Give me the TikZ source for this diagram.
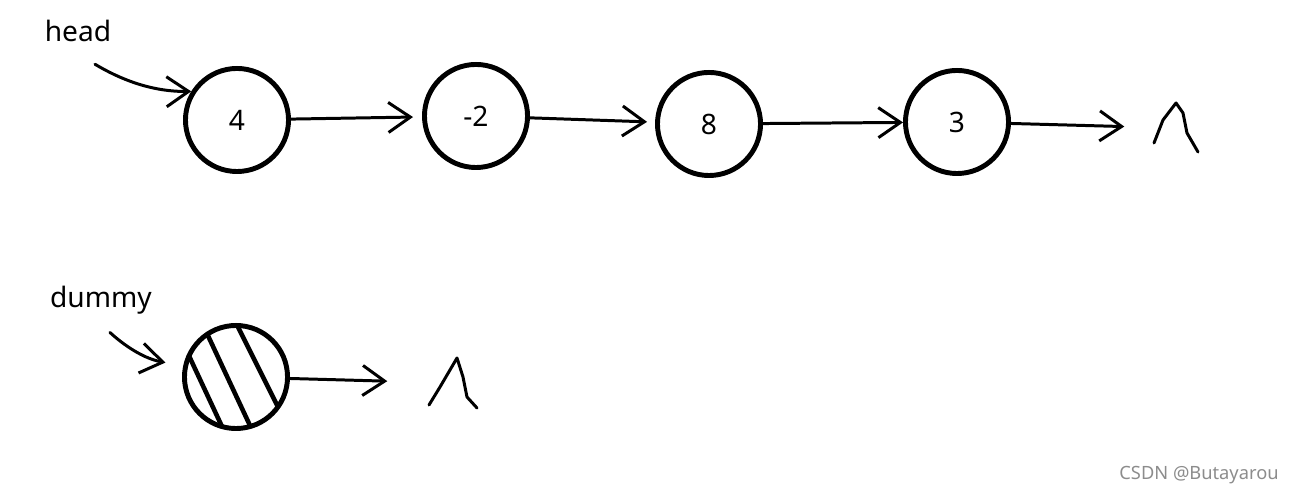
\documentclass[tikz,border=0pt]{standalone}
\usepackage{fontspec}
\setmainfont{Noto Sans}
\usepackage{tikz}
\usetikzlibrary{arrows.meta, positioning}

\begin{document}
\begin{tikzpicture}[
    x=0.01cm, y=-0.01cm,
    every node/.style={font=\fontsize{8}{10}\selectfont},
    listnode/.style={circle, draw, line width=1.4pt, minimum size=1.03cm, inner sep=0pt},
    dummynode/.style={listnode, path picture={
        \draw[line width=1.3pt, shift={(path picture bounding box.center)}]
            (-60,-49) -- (-4,71) (-40,-67) -- (24,70) (-5,-64) -- (52,50);}},
    nil/.style={minimum width=0.54cm, minimum height=0.56cm, inner sep=0pt, path picture={
        \draw[line width=0.85pt, line join=round, line cap=round,
              shift={(path picture bounding box.center)}] #1;}},
    link/.style={-{Straight Barb[length=2.2mm, width=3mm]}, line width=0.85pt},
    pointer/.style={link, line cap=round},
    watermark/.style={font=\fontsize{5.2}{6}\selectfont, text=black!45}
]
    \useasboundingbox (0,0) rectangle (1291,495);

    % List
    \node[listnode] (n1) at (237,120) {4};
    \node[listnode] (n2) at (476,116) {-2};
    \node[listnode] (n3) at (709,124) {8};
    \node[listnode] (n4) at (957,122) {3};
    \node[nil={(-22,15) -- (-13,-8) -- (0,-25) -- (7,-15) -- (11,5) -- (22,24)}] (nil1) at (1176,128) {};

    % Dummy
    \node[dummynode] (dummy) at (236,377) {};
    \node[nil={(-24,22) -- (-13,4) -- (4,-25) -- (10,-6) -- (14,14) -- (24,25)}] (nil2) at (453,383) {};

    % Labels
    \node (headlbl) at (78,31) {head};
    \node (dummylbl) at (101,300) {dummy};
    \node[watermark] (csdn) at (1199,475) {CSDN @Butayarou};

    % Arrows
    \draw[link, shorten >=0.9mm] (n1) -- (n2);
    \draw[link, shorten >=0.8mm] (n2) -- (n3);
    \draw[link] (n3) -- (n4);
    \draw[link, shorten >=2.4mm] (n4) -- (nil1);
    \draw[link, shorten >=3.8mm] (dummy) -- (nil2);

    \draw[pointer] ([shift={(17,10)}]headlbl.south) .. controls (118,78) and (150,92) .. (n1.148);
    \draw[pointer, shorten >=1.8mm] ([shift={(9,6)}]dummylbl.south) .. controls (118,340) and (140,358) .. (dummy.168);

\end{tikzpicture}
\end{document}
